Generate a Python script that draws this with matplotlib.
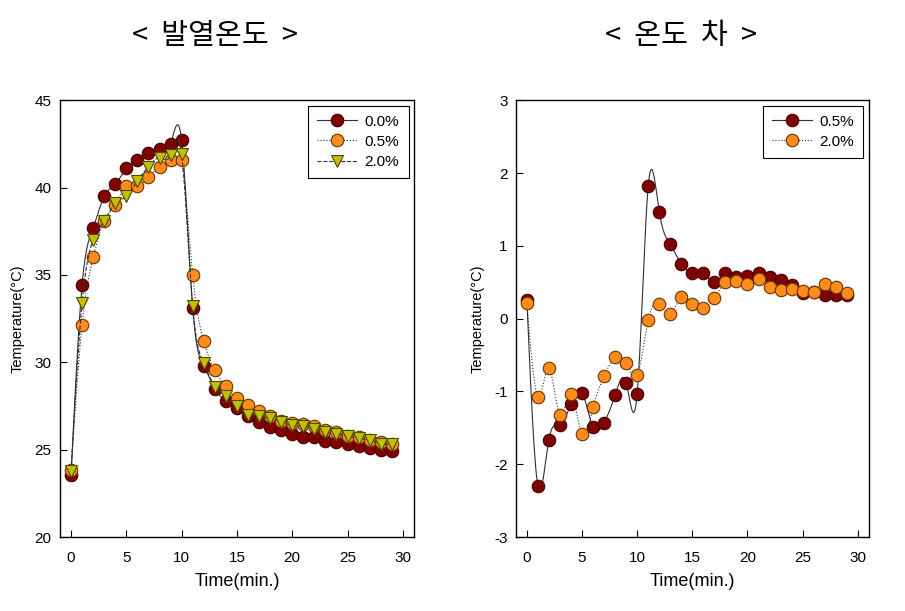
import numpy as np
import matplotlib
matplotlib.use("Agg")
import matplotlib.pyplot as plt
from matplotlib.lines import Line2D

plt.rcParams['font.family'] = ['Liberation Sans', 'DejaVu Sans']
plt.rcParams['axes.unicode_minus'] = False

# time (min.)
time = list(range(30))

# left panel: heating temperature
heat_00 = [23.55, 34.45, 37.7, 39.5, 40.2, 41.1, 41.6, 42.0, 42.2, 42.5,
           42.7, 33.1, 29.8, 28.5, 27.8, 27.4, 26.9, 26.6, 26.3, 26.1,
           25.9, 25.7, 25.7, 25.5, 25.45, 25.3, 25.2, 25.1, 25.0, 24.95]
heat_05 = [23.85, 32.15, 36.0, 38.1, 39.0, 40.1, 40.1, 40.6, 41.15, 41.6,
           41.6, 35.0, 31.2, 29.55, 28.65, 27.95, 27.55, 27.2, 26.9, 26.65,
           26.5, 26.45, 26.35, 26.1, 26.0, 25.8, 25.7, 25.55, 25.45, 25.35]
heat_20 = [23.8, 33.4, 37.0, 38.1, 39.1, 39.5, 40.4, 41.2, 41.7, 41.85,
           41.9, 33.2, 29.95, 28.6, 28.1, 27.5, 27.0, 26.9, 26.8, 26.6,
           26.4, 26.35, 26.2, 26.0, 25.9, 25.8, 25.65, 25.55, 25.35, 25.3]

# right panel: temperature difference
diff_05 = [0.25, -2.30, -1.66, -1.46, -1.17, -1.02, -1.49, -1.43, -1.05, -0.88,
           -1.03, 1.82, 1.47, 1.02, 0.75, 0.63, 0.62, 0.50, 0.63, 0.57,
           0.58, 0.63, 0.57, 0.53, 0.46, 0.35, 0.37, 0.32, 0.32, 0.32]
diff_20 = [0.21, -1.07, -0.68, -1.33, -1.03, -1.59, -1.22, -0.79, -0.53, -0.61,
           -0.78, -0.02, 0.20, 0.07, 0.30, 0.20, 0.15, 0.28, 0.51, 0.52,
           0.48, 0.54, 0.44, 0.39, 0.41, 0.38, 0.37, 0.47, 0.43, 0.35]


def spline(x, y, n=15):
    # natural cubic spline, used only to draw the curve like the original
    x = np.asarray(x, float)
    y = np.asarray(y, float)
    h = np.diff(x)
    m = len(x)
    A = np.zeros((m, m))
    b = np.zeros(m)
    A[0, 0] = A[-1, -1] = 1
    for i in range(1, m - 1):
        A[i, i - 1] = h[i - 1]
        A[i, i] = 2 * (h[i - 1] + h[i])
        A[i, i + 1] = h[i]
        b[i] = 3 * ((y[i + 1] - y[i]) / h[i] - (y[i] - y[i - 1]) / h[i - 1])
    c = np.linalg.solve(A, b)
    xs, ys = [], []
    for i in range(m - 1):
        bb = (y[i + 1] - y[i]) / h[i] - h[i] * (2 * c[i] + c[i + 1]) / 3
        d = (c[i + 1] - c[i]) / (3 * h[i])
        s = np.linspace(0, h[i], n, endpoint=False)
        xs.append(x[i] + s)
        ys.append(y[i] + bb * s + c[i] * s ** 2 + d * s ** 3)
    xs.append([x[-1]])
    ys.append([y[-1]])
    return np.concatenate(xs), np.concatenate(ys)


def draw(ax, y, ls, mk, fc, ec, label, z):
    xs, ys = spline(time, y)
    ax.plot(xs, ys, ls, color='#303030', lw=0.8, zorder=z)
    ax.plot(time, y, ls='none', marker=mk, ms=9, mfc=fc, mec=ec, mew=0.8, zorder=z + 0.5)
    return Line2D([], [], ls=ls, color='#303030', lw=0.8, marker=mk, ms=9,
                  mfc=fc, mec=ec, mew=0.8, label=label)


def style(ax, ylim, yticks):
    ax.set_xlim(-1, 31)
    ax.set_ylim(*ylim)
    ax.set_xticks(range(0, 31, 5))
    ax.set_yticks(yticks)
    ax.tick_params(direction='in', length=5, width=0.8, labelsize=11, pad=6)
    ax.tick_params(axis='x', pad=10)
    for sp in ax.spines.values():
        sp.set_linewidth(1.0)
    ax.set_xlabel('Time(min.)', fontsize=13, labelpad=6)
    ax.set_ylabel('Temperature(°C)', fontsize=10.5, labelpad=7)


def legend(ax, handles):
    leg = ax.legend(handles=handles, loc='upper right', fontsize=11, frameon=True,
                    fancybox=False, edgecolor='black', framealpha=1, handlelength=2.6,
                    borderaxespad=0.35, labelspacing=0.4, handletextpad=0.5,
                    borderpad=0.6)
    leg.get_frame().set_linewidth(0.8)


fig = plt.figure(figsize=(9.05, 6.11), dpi=100)
ax1 = fig.add_axes([0.0663, 0.121, 0.391, 0.715])
ax2 = fig.add_axes([0.570, 0.121, 0.390, 0.715])

h1 = draw(ax1, heat_00, '-', 'o', '#800000', '#4a0000', '0.0%', 2)
h2 = draw(ax1, heat_05, ':', 'o', '#ff8c1a', '#6a3500', '0.5%', 3)
h3 = draw(ax1, heat_20, '--', 'v', '#c2c000', '#4a4a00', '2.0%', 4)
style(ax1, (20, 45), range(20, 46, 5))
legend(ax1, [h1, h2, h3])

g1 = draw(ax2, diff_05, '-', 'o', '#800000', '#4a0000', '0.5%', 2)
g2 = draw(ax2, diff_20, ':', 'o', '#ff8c1a', '#6a3500', '2.0%', 3)
style(ax2, (-3, 3), range(-3, 4))
legend(ax2, [g1, g2])

kr = ['Noto Sans CJK KR', 'DejaVu Sans']
fig.text(215 / 905, 1 - 36 / 611, '<  발열온도  >', family=kr, fontsize=21,
         ha='center', va='center')
fig.text(681 / 905, 1 - 36 / 611, '<  온도  차  >', family=kr, fontsize=21,
         ha='center', va='center')

fig.savefig('out.png', dpi=100)
